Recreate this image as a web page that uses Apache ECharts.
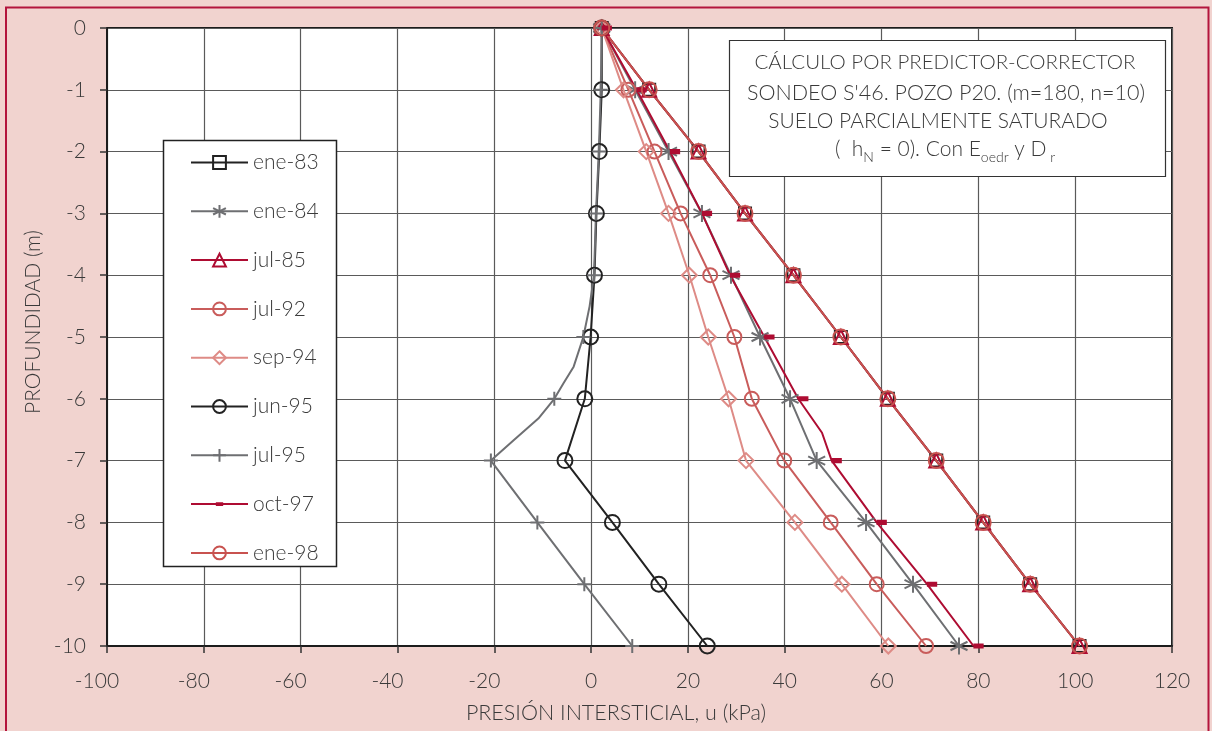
<!DOCTYPE html>
<html><head><meta charset="utf-8">
<script src="https://cdn.jsdelivr.net/npm/echarts@6/dist/echarts.min.js"></script>
<style>html,body{margin:0;padding:0;background:#F1D3CF;}#c{width:1212px;height:731px;}</style>
</head><body><div id="c"></div>
<script>
// ---- data (u in kPa at each depth in m) ----
const depths = [0, -1, -2, -3, -4, -5, -6, -7, -8, -9, -10];
const ene83 = [2.2, 12.0, 22.2, 31.8, 41.8, 51.6, 61.3, 71.3, 81.0, 90.7, 100.9];
const ene84 = [2.2, 9.1, 16.0, 22.9, 28.9, 34.9, 41.1, 46.6, 56.8, 66.5, 76.0];
const jul85 = [2.2, 12.0, 22.2, 31.8, 41.8, 51.6, 61.3, 71.3, 81.0, 90.7, 100.9];
const jul92 = [2.2, 7.7, 13.1, 18.5, 24.6, 29.6, 33.2, 39.9, 49.5, 59.0, 69.2];
const sep94 = [2.2, 6.7, 11.4, 16.0, 20.3, 24.2, 28.4, 32.0, 42.1, 51.8, 61.4];
const jun95 = [2.2, 2.2, 1.7, 1.1, 0.7, -0.1, -1.3, -5.4, 4.4, 14.0, 24.0];
const jul95 = [2.2, 2.0, 1.6, 1.0, 0.6, -1.6, -7.6, -20.7, -11.1, -1.4, 8.5];
const oct97 = [2.2, 9.4, 16.3, 22.9, 28.7, 35.8, 42.8, 49.7, 59.0, 69.4, 79.0];
const ene98 = [2.2, 12.0, 22.2, 31.8, 41.8, 51.6, 61.3, 71.3, 81.0, 90.7, 100.9];
// unmarked bend points of the drawn lines [u, depth]
const jul95Bends = [[-0.3, -4.5], [-3.6, -5.48], [-5.7, -5.75], [-10.9, -6.32], [-16.0, -6.67]];
const oct97Bends = [[47.7, -6.55]];
const names = ['ene-83', 'ene-84', 'jul-85', 'jul-92', 'sep-94', 'jun-95', 'jul-95', 'oct-97', 'ene-98'];

const FONT = 'Lato';
const FW = 300;
const TXT = '#3a3a3a';
const BLACK = '#222222', GRAY = '#6E6F72', CRIM = '#AE0C32', SALM = '#C8524F', ROSE = '#C95C5B', PINK = '#DE8B86';
const ASTER = 'path://M7,0L7,14M1,3.5L13,10.5M1,10.5L13,3.5';
const PLUS = 'path://M7,0L7,14M0,7L14,7';
const DASH = 'path://M0,0h0.01v0.01h-0.01zM3,5h8v4h-8zM13.99,13.99h0.01v0.01h-0.01z';

function build(vals, bends) {
  const pts = vals.map((v, i) => ({ value: [v, depths[i]] }));
  (bends || []).forEach(b => pts.push({ value: [b[0], b[1]], symbol: 'none' }));
  pts.sort((a, b) => b.value[1] - a.value[1]);
  return pts;
}
const specs = [
  { vals: ene83, color: BLACK, symbol: 'rect', size: 12 },
  { vals: ene84, color: GRAY, symbol: ASTER, size: 17 },
  { vals: jul85, color: CRIM, symbol: 'triangle', size: 14 },
  { vals: jul92, color: ROSE, symbol: 'circle', size: 14 },
  { vals: sep94, color: PINK, symbol: 'diamond', size: 15 },
  { vals: jun95, color: BLACK, symbol: 'circle', size: 15 },
  { vals: jul95, color: GRAY, symbol: PLUS, size: 14, bends: jul95Bends },
  { vals: oct97, color: CRIM, symbol: DASH, size: 18, bends: oct97Bends, filled: true, offset: [5, 0] },
  { vals: ene98, color: SALM, symbol: 'circle', size: 15 }
];
const series = specs.map((s, i) => ({
  name: names[i], type: 'line', data: build(s.vals, s.bends),
  symbol: s.symbol, symbolSize: s.size, symbolOffset: s.offset || [0, 0],
  lineStyle: { color: s.color, width: 2 },
  itemStyle: s.filled ? { color: s.color, borderWidth: 0 } : { color: 'rgba(255,255,255,0)', borderColor: s.color, borderWidth: 2 },
  emphasis: { disabled: true }, silent: true
}));
const legendData = specs.map((s, i) => ({
  name: names[i],
  itemStyle: s.filled ? { color: s.color, borderWidth: 0 } : { color: 'rgba(255,255,255,0)', borderColor: s.color, borderWidth: 2 },
  lineStyle: { color: s.color, width: 2 }
}));

const chart = echarts.init(document.getElementById('c'), null, { renderer: 'canvas' });
const tfont = (sz) => FW + ' ' + sz + 'px ' + FONT;
chart.setOption({
  animation: false,
  backgroundColor: '#F1D3CF',
  grid: { left: 107, top: 28, width: 1065, height: 618, show: true, backgroundColor: '#fff', borderColor: '#1c1c1c', borderWidth: 2 },
  xAxis: {
    type: 'value', min: -100, max: 120, interval: 20,
    axisLine: { show: true, onZero: false, lineStyle: { color: '#1c1c1c', width: 2 } },
    axisTick: { show: true, inside: false, length: 7, lineStyle: { color: '#333', width: 1.5 } },
    splitLine: { show: true, lineStyle: { color: '#5a5a5a', width: 1.2 } },
    axisLabel: {
      margin: 25, color: TXT, fontSize: 21, fontFamily: FONT, fontWeight: FW,
      formatter: v => v < 0 ? '{n|' + v + '}' : '{p|' + v + '}',
      rich: { n: { fontSize: 21, fontFamily: FONT, fontWeight: FW, color: TXT, padding: [0, 20, 0, 0] }, p: { fontSize: 21, fontFamily: FONT, fontWeight: FW, color: TXT } }
    }
  },
  yAxis: {
    type: 'value', min: -10, max: 0, interval: 1,
    axisLine: { show: true, onZero: false, lineStyle: { color: '#1c1c1c', width: 2 } },
    axisTick: { show: true, inside: false, length: 7, lineStyle: { color: '#333', width: 1.5 } },
    splitLine: { show: true, lineStyle: { color: '#5a5a5a', width: 1.2 } },
    axisLabel: { margin: 21, color: TXT, fontSize: 21, fontFamily: FONT, fontWeight: FW }
  },
  legend: {
    orient: 'vertical', left: 190, top: 152, padding: 0,
    itemWidth: 57, itemHeight: 16, itemGap: 27.8,
    textStyle: { fontSize: 21, fontFamily: FONT, fontWeight: FW, color: TXT, lineHeight: 20 },
    data: legendData, selectedMode: false
  },
  graphic: { elements: [
    { type: 'rect', z: 100, silent: true, shape: { x: 6, y: 7.5, width: 1202.5, height: 760 }, style: { fill: 'none', stroke: '#B3143C', lineWidth: 2 } },
    { type: 'rect', z: 3, silent: true, shape: { x: 163.5, y: 140.5, width: 173, height: 426 }, style: { fill: '#fff', stroke: '#222', lineWidth: 1.5 } },
    { type: 'rect', z: 3, silent: true, shape: { x: 729.5, y: 40.5, width: 436, height: 136 }, style: { fill: '#fff', stroke: '#333', lineWidth: 1.2 } },
    { type: 'text', z: 5, silent: true, x: 945, y: 62, style: { text: 'CÁLCULO POR PREDICTOR-CORRECTOR', fill: TXT, font: tfont(20.5), textAlign: 'center', textVerticalAlign: 'middle' } },
    { type: 'text', z: 5, silent: true, x: 946, y: 93, style: { text: "SONDEO S'46. POZO P20. (m=180, n=10)", fill: TXT, font: tfont(21.5), textAlign: 'center', textVerticalAlign: 'middle' } },
    { type: 'text', z: 5, silent: true, x: 938, y: 121, style: { text: 'SUELO PARCIALMENTE SATURADO', fill: TXT, font: tfont(21), textAlign: 'center', textVerticalAlign: 'middle' } },
    { type: 'text', z: 5, silent: true, x: 835, y: 152, style: {
      text: '{a|(  h}{s|N}{a| = 0). Con E}{s|oedr}{a| y D}{s| r}', textAlign: 'left', textVerticalAlign: 'middle',
      rich: {
        a: { fontSize: 21, fontFamily: FONT, fontWeight: FW, fill: TXT, color: TXT, lineHeight: 24, verticalAlign: 'bottom', padding: [0, 0, 4, 0] },
        s: { fontSize: 14, fontFamily: FONT, fontWeight: FW, fill: TXT, color: TXT, lineHeight: 14, verticalAlign: 'bottom' }
      } } },
    { type: 'text', z: 5, silent: true, x: 616, y: 713, style: { text: 'PRESIÓN INTERSTICIAL, u (kPa)', fill: TXT, font: tfont(21.5), textAlign: 'center', textVerticalAlign: 'middle' } },
    { type: 'text', z: 5, silent: true, x: 33, y: 322, rotation: Math.PI / 2, style: { text: 'PROFUNDIDAD (m)', fill: TXT, font: tfont(21), textAlign: 'center', textVerticalAlign: 'middle' } }
  ] },
  series: series
});
</script>
</body></html>
